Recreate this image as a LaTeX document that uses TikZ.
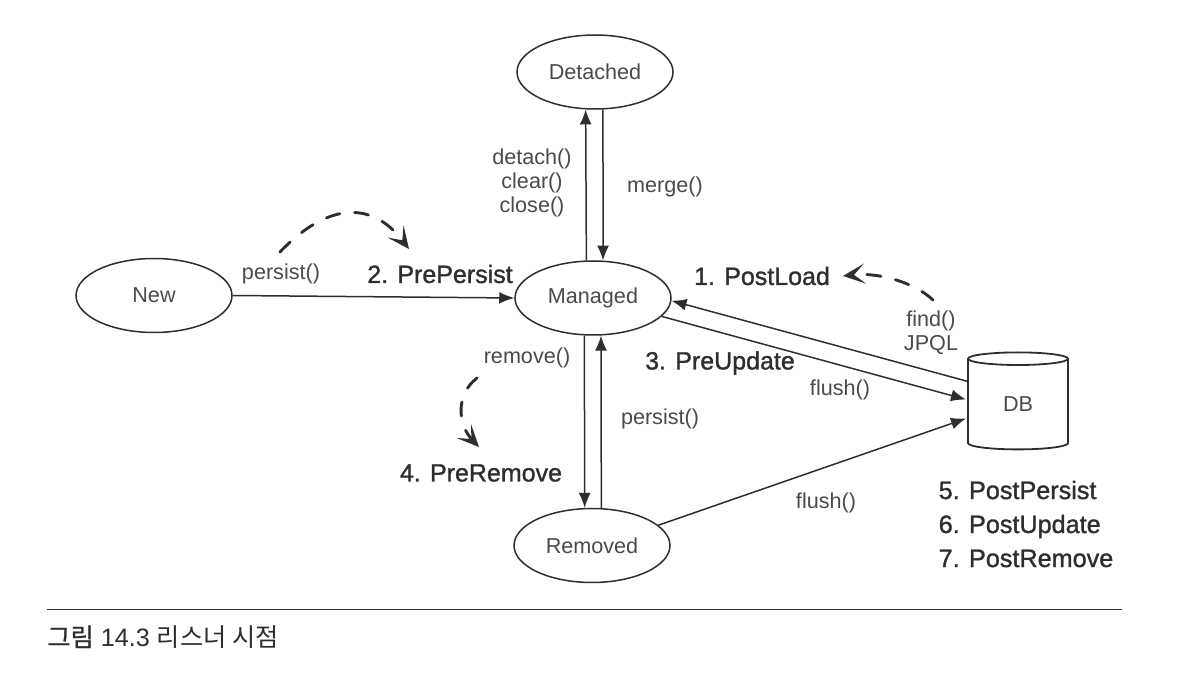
\documentclass[tikz,border=0pt]{standalone}
\usepackage{fontspec}
\setmainfont{Liberation Sans}
\newfontfamily\strongfont[FakeBold=1.2]{Liberation Sans}
\newfontfamily\krfont{Noto Sans CJK KR}
\newfontfamily\krstrong{Noto Sans CJK KR}[FakeBold=1.2]
\usetikzlibrary{shapes.geometric,arrows.meta,calc}
\definecolor{ink}{HTML}{2E2E2E}
\definecolor{soft}{HTML}{4A4A4A}
\tikzset{
  px/.style={x=0.5pt,y=-0.5pt},
  state/.style={draw=ink,ellipse,line width=0.75pt,inner sep=0pt,minimum width=78pt,minimum height=37pt,text=soft,font=\fontsize{10.8}{12}\selectfont},
  store/.style={draw=ink,cylinder,shape border rotate=90,aspect=0.42,line width=0.9pt,minimum width=50pt,minimum height=48.5pt,inner sep=0pt,text=soft,font=\fontsize{10.8}{12}\selectfont},
  flow/.style={draw=ink,line width=0.75pt,-{Latex[length=7.5pt,width=6pt]}},
  hook/.style={draw=ink,line width=1.45pt,dash pattern=on 7pt off 7.5pt,line cap=round,-{Stealth[length=11pt,width=10pt,inset=5.5pt,line cap=butt]}},
  call/.style={text=soft,font=\fontsize{10.8}{12}\selectfont,inner sep=0pt},
  event/.style={text=ink,font=\strongfont\fontsize{12.5}{15}\selectfont,inner sep=0pt},
}
\begin{document}
\begin{tikzpicture}[px]
\useasboundingbox (0,0) rectangle (1180,684);
\node[state] (New) at (154,295.5) {New};
\node[state] (Managed) at (593,298) {Managed};
\node[state] (Detached) at (595,72) {Detached};
\node[state] (Removed) at (592,545.5) {Removed};
\node[store] (DB) at (1018,404.5) {DB};

\draw[flow] (New.east) -- (Managed.west);
\draw[flow] (Managed.100.8) -- (Detached.256);
\draw[flow] (Detached.282) -- (Managed.75);
\draw[flow] (Managed.257) -- (Removed.101.5);
\draw[flow] (Removed.76) -- (Managed.282);
\draw[flow] ($(DB.center)+(-50,-23)$) -- (Managed.-2);
\draw[flow] (Managed.-15.4) -- ($(DB.center)+(-52,-5)$);
\draw[flow] (Removed.17) -- ($(DB.center)+(-52,14)$);

\coordinate (a1) at (280,252);
\coordinate (a2) at (409,249);
\coordinate (b1) at (933,300);
\coordinate (b2) at (843,276);
\coordinate (c1) at (477,378);
\coordinate (c2) at (479,447);
\draw[hook] (a1) .. controls (325,205) and (370,198) .. (a2);
\draw[hook] (b1) .. controls (915,283) and (880,272) .. (b2);
\draw[hook] (c1) .. controls (455,395) and (458,425) .. (c2);

\node[call] (t1) at (281,274) {persist()};
\node[event] (t2) at (440,274) {2. PrePersist};
\node[call,align=center] (t3) at (532,183) {detach()\\clear()\\close()};
\node[call] (t4) at (665,187) {merge()};
\node[event] (t5) at (762,276) {1. PostLoad};
\node[call,align=center] (t6) at (931,332.5) {find()\\JPQL};
\node[event] (t7) at (720,363) {3. PreUpdate};
\node[call] (t8) at (840,390) {flush()};
\node[call] (t9) at (527,358) {remove()};
\node[call] (t10) at (660,419) {persist()};
\node[event] (t11) at (481,473) {4. PreRemove};
\node[call] (t12) at (826,503) {flush()};
\node[event,align=left,font=\strongfont\fontsize{12.6}{17}\selectfont] (t13) at (1026,524) {5. PostPersist\\6. PostUpdate\\7. PostRemove};

\coordinate (r1) at (47,610);
\coordinate (r2) at (1122,610);
\draw[ink,line width=0.5pt] (r1) -- (r2);
\node[anchor=west,inner sep=0pt,text=ink,font=\fontsize{12.6}{14}\selectfont] (cap) at (47,637) {{\krstrong 그림} 14.3 {\krfont 리스너 시점}};
\end{tikzpicture}
\end{document}
